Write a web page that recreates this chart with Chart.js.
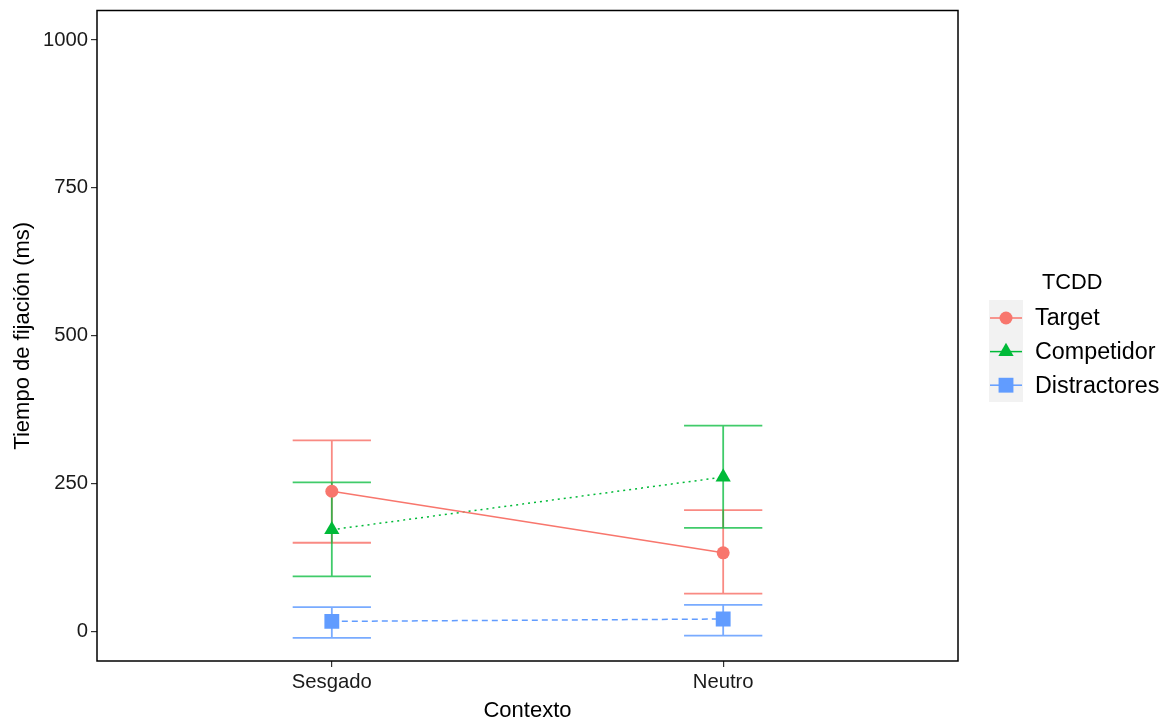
<!DOCTYPE html>
<html>
<head>
<meta charset="utf-8">
<script src="https://cdn.jsdelivr.net/npm/chart.js@4.4.0/dist/chart.umd.min.js"></script>
<style>
  html, body { margin: 0; padding: 0; background: #fff; }
  #wrap { width: 1167px; height: 727px; }
</style>
</head>
<body>
<div id="wrap"><canvas id="chart" width="1167" height="727"></canvas></div>
<script>
const categories = ['Sesgado', 'Neutro'];
const seriesNames = ['Target', 'Competidor', 'Distractores'];
const targetMean = [237, 133];
const targetUpper = [323, 205];
const targetLower = [150, 64];
const competidorMean = [172, 261];
const competidorUpper = [252, 348];
const competidorLower = [93, 175];
const distractoresMean = [17, 21];
const distractoresUpper = [41, 45];
const distractoresLower = [-11, -7];
const yTicks = [0, 250, 500, 750, 1000];

const colors = ['#F8766D', '#00BA38', '#619CFF'];
const barColors = ['rgba(248,118,109,0.85)', 'rgba(0,186,56,0.75)', 'rgba(97,156,255,0.85)'];
const pointStyles = ['circle', 'triangle', 'rect'];
const pointRadius = [6.5, 8.8, 10.5];
const dashes = [[], [2, 4], [6, 4]];
const means = [targetMean, competidorMean, distractoresMean];
const uppers = [targetUpper, competidorUpper, distractoresUpper];
const lowers = [targetLower, competidorLower, distractoresLower];

const datasets = seriesNames.map((name, s) => ({
  label: name,
  data: means[s].map((v, i) => ({x: i + 1, y: v})),
  showLine: true,
  borderColor: colors[s],
  backgroundColor: colors[s],
  borderWidth: 1.5,
  borderDash: dashes[s],
  pointStyle: pointStyles[s],
  pointRadius: pointRadius[s],
  pointBorderWidth: 0,
  pointHoverRadius: pointRadius[s]
}));

const errorBars = {
  id: 'errorBars',
  beforeDatasetsDraw(chart) {
    const ctx = chart.ctx;
    const xs = chart.scales.x, ys = chart.scales.y;
    ctx.save();
    ctx.lineWidth = 1.8;
    seriesNames.forEach((name, s) => {
      ctx.strokeStyle = barColors[s];
      categories.forEach((c, i) => {
        const xc = xs.getPixelForValue(i + 1);
        const xl = xs.getPixelForValue(i + 0.9);
        const xr = xs.getPixelForValue(i + 1.1);
        const yu = ys.getPixelForValue(uppers[s][i]);
        const yl = ys.getPixelForValue(lowers[s][i]);
        ctx.beginPath();
        ctx.moveTo(xc, yu); ctx.lineTo(xc, yl);
        ctx.moveTo(xl, yu); ctx.lineTo(xr, yu);
        ctx.moveTo(xl, yl); ctx.lineTo(xr, yl);
        ctx.stroke();
      });
    });
    ctx.restore();
  },
  afterDraw(chart) {
    const ctx = chart.ctx;
    const a = chart.chartArea;
    ctx.save();
    ctx.strokeStyle = '#000';
    ctx.lineWidth = 1.5;
    ctx.strokeRect(a.left, a.top, a.right - a.left, a.bottom - a.top);

    // legend
    ctx.fillStyle = '#F2F2F2';
    ctx.fillRect(989, 300, 34, 102);
    ctx.fillStyle = '#000';
    ctx.textBaseline = 'middle';
    ctx.textAlign = 'left';
    ctx.font = '21.8px "Liberation Sans", Arial, sans-serif';
    ctx.fillText('TCDD', 1042, 283);
    ctx.font = '23.3px "Liberation Sans", Arial, sans-serif';
    seriesNames.forEach((name, s) => {
      const y = 318 + s * 33.6;
      ctx.strokeStyle = colors[s];
      ctx.lineWidth = 1.5;
      ctx.setLineDash([]);
      ctx.beginPath();
      ctx.moveTo(990, y); ctx.lineTo(1022, y);
      ctx.stroke();
      ctx.fillStyle = colors[s];
      Chart.helpers.drawPoint(ctx, {pointStyle: pointStyles[s], radius: pointRadius[s], borderWidth: 0}, 1006, y);
      ctx.fillStyle = '#000';
      ctx.fillText(name, 1035, y + 1);
    });
    ctx.restore();
  }
};

const tickFont = {family: '"Liberation Sans", Arial, sans-serif', size: 20.3};
// small lineHeight so the top label does not push the plot area down
const yTickFont = {family: '"Liberation Sans", Arial, sans-serif', size: 20.3, lineHeight: 0.4};
const titleFont = {family: '"Liberation Sans", Arial, sans-serif', size: 22};

new Chart(document.getElementById('chart'), {
  type: 'scatter',
  data: {datasets: datasets},
  plugins: [errorBars],
  options: {
    responsive: false,
    animation: false,
    layout: {padding: {top: 8, right: 209, bottom: 0, left: 0}},
    plugins: {legend: {display: false}, tooltip: {enabled: false}},
    scales: {
      x: {
        type: 'linear',
        min: 0.4,
        max: 2.6,
        afterBuildTicks: (scale) => { scale.ticks = categories.map((c, i) => ({value: i + 1})); },
        afterFit: (scale) => { scale.height = 66; },
        ticks: {
          callback: (v) => categories[v - 1],
          font: tickFont,
          color: '#1a1a1a',
          padding: 3,
          maxRotation: 0
        },
        grid: {drawOnChartArea: false, drawTicks: true, tickLength: 6, color: '#333', lineWidth: 1.2},
        border: {display: false},
        title: {display: true, text: 'Contexto', font: titleFont, color: '#000', padding: {top: 0, bottom: 3}}
      },
      y: {
        type: 'linear',
        min: -50,
        max: 1050,
        afterBuildTicks: (scale) => { scale.ticks = yTicks.map(v => ({value: v})); },
        afterFit: (scale) => { scale.width = 97; },
        ticks: {font: yTickFont, color: '#1a1a1a', padding: 3, callback: (v) => String(v)},
        grid: {drawOnChartArea: false, drawTicks: true, tickLength: 6, color: '#333', lineWidth: 1.2},
        border: {display: false},
        title: {display: true, text: 'Tiempo de fijación (ms)', font: titleFont, color: '#000', padding: {top: 10, bottom: 0}}
      }
    }
  }
});
</script>
</body>
</html>
